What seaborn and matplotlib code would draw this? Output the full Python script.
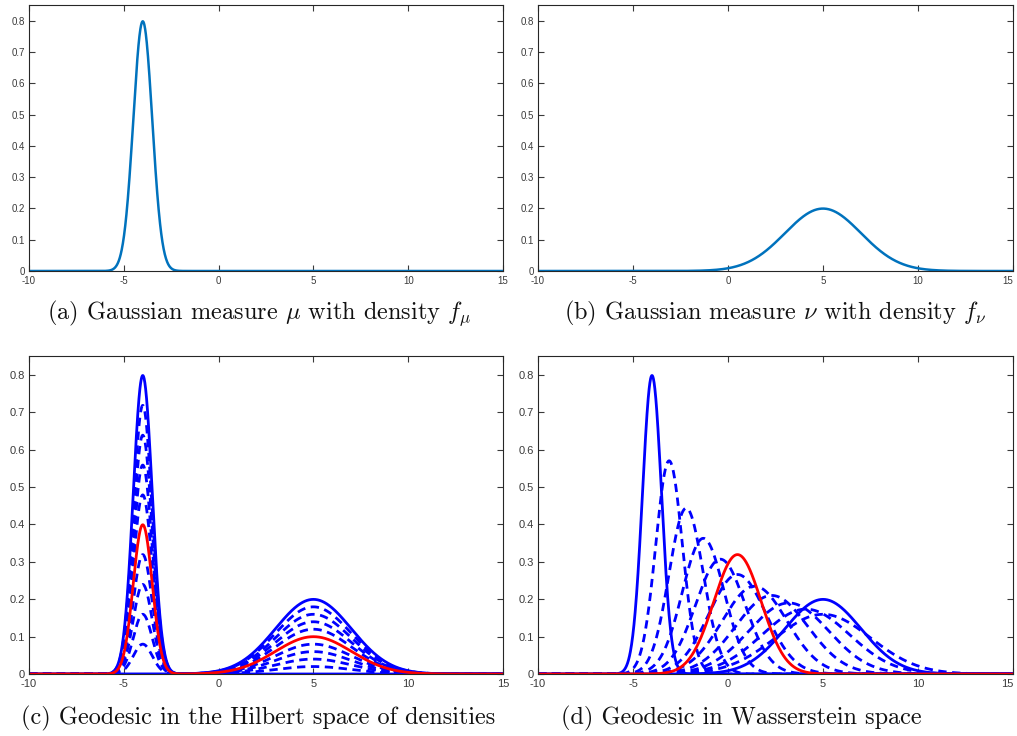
import numpy as np
import matplotlib
matplotlib.use("Agg")
import matplotlib.pyplot as plt
import seaborn as sns

# ---- data ----
mu_mean, mu_sd = -4.0, 0.5          # Gaussian measure mu
nu_mean, nu_sd = 5.0, 2.0           # Gaussian measure nu
hilbert_weights = [0.1, 0.2, 0.3, 0.4, 0.6, 0.7, 0.8, 0.9]   # dashed mixtures
hilbert_red_weight = 0.5
wass_means = [-3.1, -2.2, -1.3, -0.4, 0.5, 1.4, 2.3, 3.2, 4.1, 5.0]
wass_sds = [0.7, 0.9, 1.1, 1.3, 1.5, 1.7, 1.9, 2.1, 2.3, 2.5]
wass_red_mean, wass_red_sd = 0.5, 1.25
xticks = [-10, -5, 0, 5, 10, 15]
yticks = [0, 0.1, 0.2, 0.3, 0.4, 0.5, 0.6, 0.7, 0.8]
ytick_labels = ["0", "0.1", "0.2", "0.3", "0.4", "0.5", "0.6", "0.7", "0.8"]
captions = [
    r"(a) Gaussian measure $\mu$ with density $f_\mu$",
    r"(b) Gaussian measure $\nu$ with density $f_\nu$",
    r"(c) Geodesic in the Hilbert space of densities",
    r"(d) Geodesic in Wasserstein space",
]

sns.set_style("ticks")
plt.rcParams["mathtext.fontset"] = "cm"
plt.rcParams["axes.unicode_minus"] = False
plt.rcParams["font.family"] = ["Liberation Sans", "DejaVu Sans"]

x = np.linspace(-10, 15, 2001)


def gauss(m, s):
    return np.exp(-0.5 * ((x - m) / s) ** 2) / (s * np.sqrt(2 * np.pi))


W, H = 1017, 736
fig = plt.figure(figsize=(W / 100, H / 100), dpi=100)


def make_ax(l, r, t, b):
    return fig.add_axes([l / W, 1 - b / H, (r - l) / W, (b - t) / H])


ax_a = make_ax(29, 503, 5, 271)
ax_b = make_ax(538, 1013, 5, 271)
ax_c = make_ax(29, 503, 356, 674)
ax_d = make_ax(538, 1013, 356, 674)

matlab_blue = "#0072BD"
f_mu = gauss(mu_mean, mu_sd)
f_nu = gauss(nu_mean, nu_sd)

sns.lineplot(x=x, y=f_mu, ax=ax_a, color=matlab_blue, linewidth=1.8)
sns.lineplot(x=x, y=f_nu, ax=ax_b, color=matlab_blue, linewidth=1.8)

dash = (0, (3, 2))
# (c) Hilbert geodesic
for w in hilbert_weights:
    sns.lineplot(x=x, y=(1 - w) * f_mu + w * f_nu, ax=ax_c, color="#0000FF",
                 linewidth=2.0, linestyle=dash)
sns.lineplot(x=x, y=f_mu, ax=ax_c, color="#0000FF", linewidth=2.0)
sns.lineplot(x=x, y=f_nu, ax=ax_c, color="#0000FF", linewidth=2.0)
sns.lineplot(x=x, y=(1 - hilbert_red_weight) * f_mu + hilbert_red_weight * f_nu,
             ax=ax_c, color="#FF0000", linewidth=2.0)

# (d) Wasserstein geodesic
for m, s in zip(wass_means, wass_sds):
    sns.lineplot(x=x, y=gauss(m, s), ax=ax_d, color="#0000FF",
                 linewidth=2.0, linestyle=dash)
sns.lineplot(x=x, y=f_mu, ax=ax_d, color="#0000FF", linewidth=2.0)
sns.lineplot(x=x, y=f_nu, ax=ax_d, color="#0000FF", linewidth=2.0)
sns.lineplot(x=x, y=gauss(wass_red_mean, wass_red_sd), ax=ax_d,
             color="#FF0000", linewidth=2.0)

for ax, fs in [(ax_a, 7.0), (ax_b, 7.0), (ax_c, 8.0), (ax_d, 8.0)]:
    ax.set_xlim(-10, 15)
    ax.set_ylim(0, 0.85)
    ax.set_xticks(xticks)
    ax.set_xticklabels([str(v) for v in xticks])
    ax.set_yticks(yticks)
    ax.set_yticklabels(ytick_labels)
    ax.tick_params(direction="in", top=True, right=True, length=4, width=0.8,
                   labelsize=fs, labelcolor="#3a3a3a", color="#3a3a3a", pad=3)
    ax.tick_params(axis="x", pad=3.5)
    for sp in ax.spines.values():
        sp.set_visible(True)
        sp.set_color("#262626")
        sp.set_linewidth(0.8)
    ax.set_xlabel("")
    ax.set_ylabel("")

# keep the last x tick label of the right-hand panels inside the figure
for ax in (ax_b, ax_d):
    lbl = ax.get_xticklabels()[-1]
    lbl.set_horizontalalignment("right")
    lbl.set_x(lbl.get_position()[0])

cap_pos = [(259, 313), (775, 313), (258, 718), (741, 718)]
for (cx, cy), txt in zip(cap_pos, captions):
    fig.text(cx / W, 1 - cy / H, txt, ha="center", va="center",
             fontsize=17.5, family="cmr10", color="#111111")

fig.savefig("out.png", dpi=100)
